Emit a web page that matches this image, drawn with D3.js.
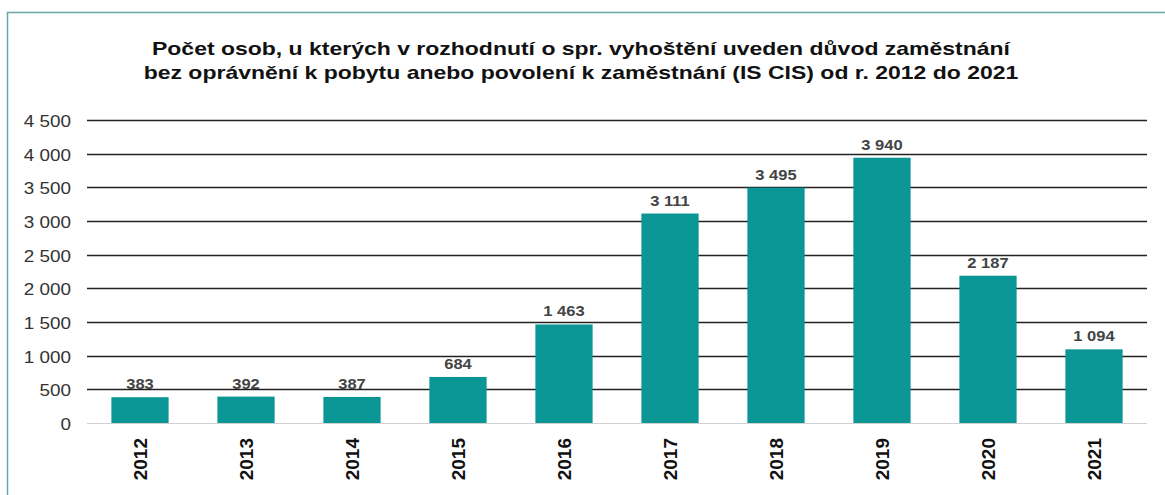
<!DOCTYPE html>
<html>
<head>
<meta charset="utf-8">
<script src="https://cdn.jsdelivr.net/npm/d3@7"></script>
<style>
  body { margin: 0; background: #fff; }
  svg { display: block; }
</style>
</head>
<body>
<svg width="1165" height="495"></svg>
<script>
// data
var years = ["2012", "2013", "2014", "2015", "2016", "2017", "2018", "2019", "2020", "2021"];
var counts = [383, 392, 387, 684, 1463, 3111, 3495, 3940, 2187, 1094];
var yTicks = [0, 500, 1000, 1500, 2000, 2500, 3000, 3500, 4000, 4500];
var titleLines = [
    "Počet osob, u kterých v rozhodnutí o spr. vyhoštění uveden důvod zaměstnání",
    "bez oprávnění k pobytu anebo povolení k zaměstnání (IS CIS) od r. 2012 do 2021"
];

var svg = d3.select("svg");
var plotLeft = 87, plotRight = 1147, plotTop = 120, plotBottom = 423;
var stretch = 1.18; // the original picture is a bit wider than tall

// frame
svg.append("rect")
    .attr("x", 7.5).attr("y", 12.5)
    .attr("width", 1200).attr("height", 600)
    .attr("fill", "none")
    .attr("stroke", "#6aa5a8")
    .attr("stroke-width", 1.5);

// title
svg.append("g").selectAll("text")
    .data(titleLines)
    .enter().append("text")
    .attr("transform", (d, i) => "translate(581," + (55 + i * 24) + ") scale(1.21,1)")
    .attr("text-anchor", "middle")
    .style("font-family", "'Liberation Sans', Arial, sans-serif")
    .style("font-weight", "bold")
    .style("font-size", "19px")
    .style("fill", "#111")
    .text(d => d);

var x = d3.scaleBand().domain(years).range([plotLeft, plotRight]).paddingInner(0.46).paddingOuter(0.23);
var y = d3.scaleLinear().domain([0, 4500]).range([plotBottom, plotTop]);

// gridlines
svg.append("g").selectAll("line")
    .data(yTicks)
    .enter().append("line")
    .attr("x1", plotLeft).attr("x2", plotRight)
    .attr("y1", d => Math.round(y(d)) + 0.5)
    .attr("y2", d => Math.round(y(d)) + 0.5)
    .attr("stroke", d => d === 0 ? "#d0d0d0" : "#222")
    .attr("stroke-width", d => d === 0 ? 1 : 1.4);

// y axis labels
var fmt = v => d3.format(",")(v).replace(/,/g, " ");
var yAxis = d3.axisLeft(y).tickValues(yTicks).tickFormat(fmt).tickSize(0).tickPadding(0);
var gy = svg.append("g").attr("transform", "translate(" + 71 + ",0)").call(yAxis);
gy.select(".domain").remove();
gy.selectAll("text")
    .attr("transform", "scale(" + stretch + ",1)")
    .attr("dy", "0.4em")
    .style("font-family", "'Liberation Sans', Arial, sans-serif")
    .style("font-size", "16px")
    .style("fill", "#333");

// bars
svg.append("g").selectAll("rect")
    .data(counts)
    .enter().append("rect")
    .attr("x", (d, i) => x(years[i]))
    .attr("y", d => y(d))
    .attr("width", x.bandwidth())
    .attr("height", d => y(0) - y(d))
    .attr("fill", "#0b9696");

// value labels
svg.append("g").selectAll("text")
    .data(counts)
    .enter().append("text")
    .attr("transform", (d, i) => "translate(" + (x(years[i]) + x.bandwidth() / 2) + "," + (y(d) - 8) + ") scale(" + stretch + ",1)")
    .attr("text-anchor", "middle")
    .style("font-family", "'Liberation Sans', Arial, sans-serif")
    .style("font-weight", "bold")
    .style("font-size", "14px")
    .style("fill", "#444")
    .text(d => fmt(d));

// x axis labels (rotated)
var xAxis = d3.axisBottom(x).tickSize(0).tickPadding(0);
var gx = svg.append("g").attr("transform", "translate(0," + plotBottom + ")").call(xAxis);
gx.select(".domain").remove();
gx.selectAll("text")
    .attr("transform", "rotate(-90)")
    .attr("x", -15)
    .attr("y", 0)
    .attr("dy", "0.36em")
    .attr("text-anchor", "end")
    .style("font-family", "'Liberation Sans', Arial, sans-serif")
    .style("font-weight", "bold")
    .style("font-size", "19px")
    .style("fill", "#111");
</script>
</body>
</html>
